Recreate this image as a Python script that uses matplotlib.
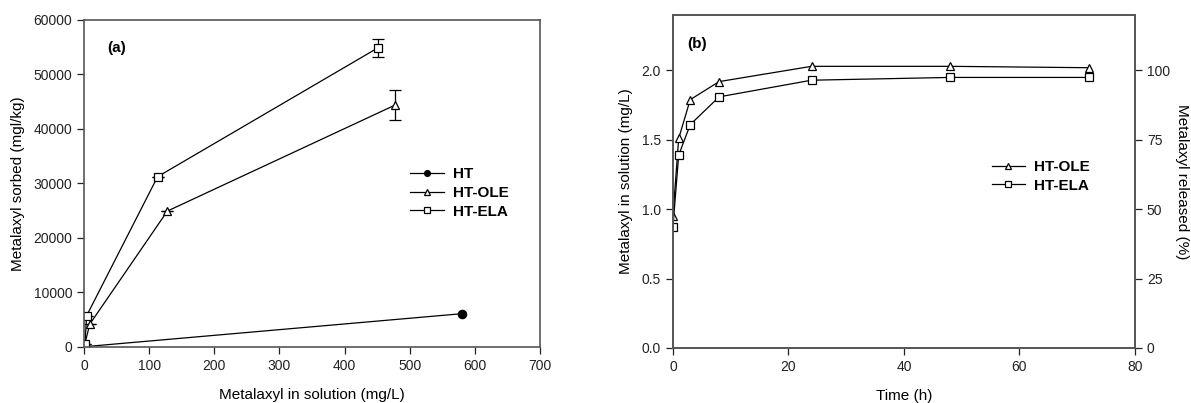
import numpy as np
import matplotlib.pyplot as plt

plt.rcParams['font.family'] = ['Liberation Sans', 'DejaVu Sans']

# --- Panel (a): sorption isotherms ---
ht_x = [0.5, 580]
ht_y = [50, 6100]
ole_x = [0.5, 9, 128, 477]
ole_y = [200, 4200, 24900, 44300]
ole_err = [0, 0, 0, 2700]
ela_x = [1.5, 4, 113, 451]
ela_y = [500, 5700, 31200, 54800]
ela_err = [0, 0, 0, 1600]

# --- Panel (b): release kinetics ---
time_h = [0, 1, 3, 8, 24, 48, 72]
ole_rel = [0.95, 1.51, 1.79, 1.92, 2.03, 2.03, 2.02]
ela_rel = [0.87, 1.39, 1.61, 1.81, 1.93, 1.95, 1.95]

spine_col = '#555555'
fig = plt.figure(figsize=(11.91, 4.03), dpi=100)
ax1 = fig.add_axes([0.0705, 0.139, 0.383, 0.8126])
ax2 = fig.add_axes([0.565, 0.1365, 0.388, 0.8263])

mk = dict(markersize=6, markeredgecolor='black', markeredgewidth=0.9, color='black', linewidth=0.9)

ax1.plot(ht_x, ht_y, marker='o', markerfacecolor='black', label='HT', **mk)
# error bars drawn apart so the legend keeps plain handles
ax1.errorbar(ole_x, ole_y, yerr=ole_err, fmt='none', ecolor='black', capsize=4,
             elinewidth=0.9, capthick=0.9)
ax1.errorbar(ela_x, ela_y, yerr=ela_err, fmt='none', ecolor='black', capsize=4,
             elinewidth=0.9, capthick=0.9)
ax1.plot(ole_x, ole_y, marker='^', markerfacecolor='white', label='HT-OLE', **mk)
ax1.plot(ela_x, ela_y, marker='s', markerfacecolor='white', label='HT-ELA', **mk)
ax1.set_xlim(0, 700)
ax1.set_ylim(0, 60000)
ax1.set_xticks(range(0, 701, 100))
ax1.set_yticks(range(0, 60001, 10000))
ax1.set_xlabel('Metalaxyl in solution (mg/L)', fontsize=11, labelpad=11)
ax1.set_ylabel('Metalaxyl sorbed (mgl/kg)', fontsize=11, labelpad=6)
ax1.text(0.05, 0.9, '(a)', transform=ax1.transAxes, fontsize=11, fontweight='bold')
ax1.legend(loc='center left', bbox_to_anchor=(0.685, 0.47), frameon=False,
           prop={'weight': 'bold', 'size': 11}, handlelength=2.2, markerscale=0.7,
           labelspacing=0.3, handletextpad=0.6)

mk2 = dict(markersize=6, markeredgecolor='black', markeredgewidth=0.9, color='black',
           linewidth=0.9, markerfacecolor='white')
ax2.plot(time_h, ole_rel, marker='^', label='HT-OLE', **mk2)
ax2.plot(time_h, ela_rel, marker='s', label='HT-ELA', **mk2)
ax2.set_xlim(0, 80)
ax2.set_ylim(0, 2.4)
ax2.set_xticks(range(0, 81, 20))
ax2.set_yticks([0.0, 0.5, 1.0, 1.5, 2.0])
ax2.set_yticklabels(['0.0', '0.5', '1.0', '1.5', '2.0'])
ax2.set_xlabel('Time (h)', fontsize=11, labelpad=11)
ax2.set_ylabel('Metalaxyl in solution (mg/L)', fontsize=11, labelpad=6)
ax2.text(0.03, 0.9, '(b)', transform=ax2.transAxes, fontsize=11, fontweight='bold')
ax2.legend(loc='center left', bbox_to_anchor=(0.66, 0.515), frameon=False,
           prop={'weight': 'bold', 'size': 11}, handlelength=2.2, markerscale=0.7,
           labelspacing=0.3, handletextpad=0.6)

ax3 = ax2.twinx()
ax3.set_ylim(0, 120)
ax3.set_yticks([0, 25, 50, 75, 100])
ax3.set_ylabel('Metalaxyl released (%)', fontsize=11, rotation=270, labelpad=14)

for ax in (ax1, ax2, ax3):
    ax.tick_params(direction='out', length=5, width=0.9, labelsize=10, colors='#222222')
    for sp in ax.spines.values():
        sp.set_color(spine_col)
        sp.set_linewidth(1.2)

fig.savefig('out.png', dpi=100)
